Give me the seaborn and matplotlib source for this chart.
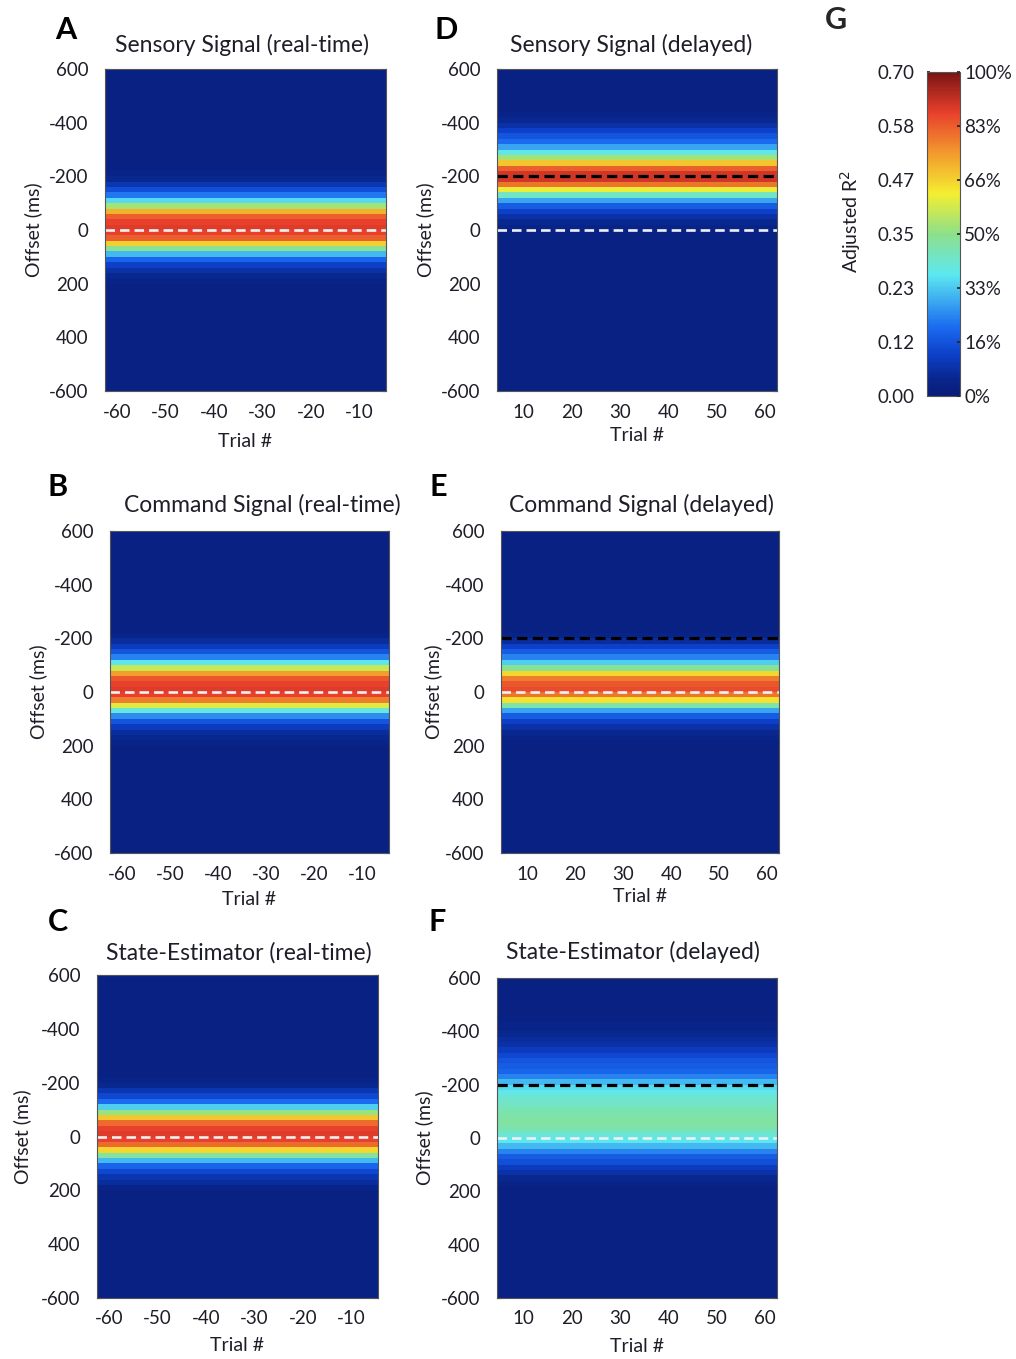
"""Six offset-by-trial R^2 maps plus a shared jet colour scale (panels A-G)."""
import matplotlib
matplotlib.use("Agg")
import matplotlib.pyplot as plt
import numpy as np
import pandas as pd
import seaborn as sns
from matplotlib.colors import LinearSegmentedColormap

W, H = 1016, 1359

# offset bins (ms), 20 ms wide, centres from -590 to 590
OFFSETS = list(range(-590, 600, 20))
LEFT_TRIALS = list(range(-62, -4))     # -62 .. -5
RIGHT_TRIALS = list(range(5, 63))      # 5 .. 62

# adjusted R^2 per offset bin (rows of 10 bins)
SENSORY_RT = [0.02, 0.02, 0.02, 0.02, 0.02, 0.02, 0.02, 0.02, 0.02, 0.02,
              0.02, 0.02, 0.02, 0.02, 0.02, 0.02, 0.02, 0.02, 0.02, 0.03,
              0.04, 0.07, 0.11, 0.16, 0.25, 0.37, 0.50, 0.58, 0.61, 0.62,
              0.61, 0.58, 0.47, 0.34, 0.22, 0.14, 0.09, 0.06, 0.04, 0.03,
              0.02, 0.02, 0.02, 0.02, 0.02, 0.02, 0.02, 0.02, 0.02, 0.02,
              0.02, 0.02, 0.02, 0.02, 0.02, 0.02, 0.02, 0.02, 0.02, 0.02]
COMMAND_RT = [0.02, 0.02, 0.02, 0.02, 0.02, 0.02, 0.02, 0.02, 0.02, 0.02,
              0.02, 0.02, 0.02, 0.02, 0.02, 0.02, 0.02, 0.02, 0.02, 0.03,
              0.05, 0.08, 0.12, 0.17, 0.26, 0.40, 0.52, 0.59, 0.61, 0.62,
              0.61, 0.55, 0.42, 0.28, 0.18, 0.12, 0.08, 0.05, 0.04, 0.03,
              0.02, 0.02, 0.02, 0.02, 0.02, 0.02, 0.02, 0.02, 0.02, 0.02,
              0.02, 0.02, 0.02, 0.02, 0.02, 0.02, 0.02, 0.02, 0.02, 0.02]
STATE_RT = [0.02, 0.02, 0.02, 0.02, 0.02, 0.02, 0.02, 0.02, 0.02, 0.02,
            0.02, 0.02, 0.02, 0.02, 0.02, 0.02, 0.02, 0.02, 0.02, 0.03,
            0.04, 0.07, 0.10, 0.15, 0.24, 0.36, 0.48, 0.57, 0.61, 0.62,
            0.61, 0.57, 0.46, 0.33, 0.22, 0.14, 0.10, 0.07, 0.05, 0.03,
            0.02, 0.02, 0.02, 0.02, 0.02, 0.02, 0.02, 0.02, 0.02, 0.02,
            0.02, 0.02, 0.02, 0.02, 0.02, 0.02, 0.02, 0.02, 0.02, 0.02]
SENSORY_DL = [0.02, 0.02, 0.02, 0.02, 0.02, 0.02, 0.02, 0.02, 0.03, 0.04,
              0.06, 0.09, 0.12, 0.15, 0.20, 0.27, 0.37, 0.48, 0.58, 0.63,
              0.63, 0.56, 0.43, 0.30, 0.20, 0.13, 0.09, 0.06, 0.04, 0.03,
              0.02, 0.02, 0.02, 0.02, 0.02, 0.02, 0.02, 0.02, 0.02, 0.02,
              0.02, 0.02, 0.02, 0.02, 0.02, 0.02, 0.02, 0.02, 0.02, 0.02,
              0.02, 0.02, 0.02, 0.02, 0.02, 0.02, 0.02, 0.02, 0.02, 0.02]
COMMAND_DL = [0.02, 0.02, 0.02, 0.02, 0.02, 0.02, 0.02, 0.02, 0.02, 0.02,
              0.02, 0.02, 0.02, 0.02, 0.02, 0.02, 0.02, 0.02, 0.02, 0.03,
              0.05, 0.09, 0.13, 0.17, 0.24, 0.34, 0.46, 0.55, 0.59, 0.60,
              0.56, 0.45, 0.32, 0.20, 0.13, 0.09, 0.06, 0.04, 0.03, 0.02,
              0.02, 0.02, 0.02, 0.02, 0.02, 0.02, 0.02, 0.02, 0.02, 0.02,
              0.02, 0.02, 0.02, 0.02, 0.02, 0.02, 0.02, 0.02, 0.02, 0.02]
STATE_DL = [0.02, 0.02, 0.02, 0.02, 0.02, 0.02, 0.02, 0.02, 0.03, 0.03,
            0.04, 0.05, 0.06, 0.08, 0.10, 0.12, 0.13, 0.14, 0.17, 0.22,
            0.25, 0.27, 0.29, 0.30, 0.31, 0.32, 0.33, 0.33, 0.31, 0.28,
            0.26, 0.22, 0.17, 0.13, 0.11, 0.08, 0.06, 0.04, 0.03, 0.02,
            0.02, 0.02, 0.02, 0.02, 0.02, 0.02, 0.02, 0.02, 0.02, 0.02,
            0.02, 0.02, 0.02, 0.02, 0.02, 0.02, 0.02, 0.02, 0.02, 0.02]

Y_TICKS = [-600, -400, -200, 0, 200, 400, 600]
Y_TICKLABELS = ["600", "-400", "-200", "0", "200", "400", "-600"]
LEFT_XTICKS = [-60, -50, -40, -30, -20, -10]
RIGHT_XTICKS = [10, 20, 30, 40, 50, 60]
CB_TICKS = [0.0, 0.1167, 0.2333, 0.35, 0.4667, 0.5833, 0.70]
CB_LEFT = ["0.00", "0.12", "0.23", "0.35", "0.47", "0.58", "0.70"]
CB_RIGHT = ["0%", "16%", "33%", "50%", "66%", "83%", "100%"]
VMAX = 0.70

TXT = "#1e1e28"
# jet, toned down to the muted print colours of the figure
JET_MUTED = LinearSegmentedColormap.from_list("jet_muted", [
    (0.00, "#0a1c78"), (0.05, "#08268c"), (0.125, "#0d3fc8"), (0.21, "#1a6af0"),
    (0.375, "#5de8f0"), (0.50, "#8de08a"), (0.625, "#f4ee30"), (0.75, "#f29a2c"),
    (0.875, "#e8402c"), (1.00, "#7a1414")])

# panel: letter, title, profile, trials, ticks, dashed lines, axes box (px), label positions (px)
PANELS = [
    dict(letter="A", title="Sensory Signal (real-time)", prof=SENSORY_RT, trials=LEFT_TRIALS, xt=LEFT_XTICKS,
         lines=[(0, "white")], box=(105, 69, 386, 391), let=(66, 30), tit=(242, 45), yl=33, xl=443),
    dict(letter="B", title="Command Signal (real-time)", prof=COMMAND_RT, trials=LEFT_TRIALS, xt=LEFT_XTICKS,
         lines=[(0, "white")], box=(110, 531, 389, 853), let=(58, 487), tit=(262, 505), yl=38, xl=901),
    dict(letter="C", title="State-Estimator (real-time)", prof=STATE_RT, trials=LEFT_TRIALS, xt=LEFT_XTICKS,
         lines=[(0, "white")], box=(97, 975, 378, 1298), let=(58, 922), tit=(239, 953), yl=22, xl=1347),
    dict(letter="D", title="Sensory Signal (delayed)", prof=SENSORY_DL, trials=RIGHT_TRIALS, xt=RIGHT_XTICKS,
         lines=[(-200, "black"), (0, "white")], box=(497, 69, 777, 391), let=(446, 30), tit=(631, 45), yl=425, xl=437),
    dict(letter="E", title="Command Signal (delayed)", prof=COMMAND_DL, trials=RIGHT_TRIALS, xt=RIGHT_XTICKS,
         lines=[(-200, "black"), (0, "white")], box=(501, 531, 779, 853), let=(438, 487), tit=(641, 505), yl=433, xl=898),
    dict(letter="F", title="State-Estimator (delayed)", prof=STATE_DL, trials=RIGHT_TRIALS, xt=RIGHT_XTICKS,
         lines=[(-200, "black"), (0, "white")], box=(497, 978, 777, 1298), let=(437, 922), tit=(633, 952), yl=424, xl=1348),
]


def fx(x):
    return x / W


def fy(y):
    return 1 - y / H


def main():
    sns.set_theme(style="white")
    plt.rcParams["font.family"] = ["Lato", "DejaVu Sans"]
    fig = plt.figure(figsize=(W / 100, H / 100), dpi=100)
    mesh = None
    for p in PANELS:
        x0, y0, x1, y1 = p["box"]
        ax = fig.add_axes([fx(x0), fy(y1), (x1 - x0) / W, (y1 - y0) / H])
        prof = np.array(p["prof"])
        grid = pd.DataFrame(np.repeat(prof[:, None], len(p["trials"]), axis=1),
                            index=OFFSETS, columns=p["trials"])
        sns.heatmap(grid, ax=ax, cmap=JET_MUTED, vmin=0, vmax=VMAX, cbar=False,
                    xticklabels=False, yticklabels=False)
        mesh = ax.collections[0]
        t0 = p["trials"][0]
        ax.set_xticks([t - t0 + 0.5 for t in p["xt"]])
        ax.set_xticklabels([str(t) for t in p["xt"]], rotation=0)
        ax.set_yticks([(o + 600) / 20 for o in Y_TICKS])
        ax.set_yticklabels(Y_TICKLABELS, rotation=0)
        ax.tick_params(direction="in", length=3, width=0.8, color="#333333",
                       top=True, right=True, bottom=True, left=True,
                       labelsize=13.5, labelcolor=TXT)
        ax.tick_params(axis="x", pad=9)
        ax.tick_params(axis="y", pad=12)
        for s in ax.spines.values():
            s.set_visible(True)
            s.set_linewidth(0.8)
            s.set_color("#555555")
        for off, col in p["lines"]:
            if col == "white":
                ax.axhline((off + 600) / 20, color="#f0f0f0", lw=1.9, ls=(0, (3.6, 1.9)))
            else:
                ax.axhline((off + 600) / 20, color="black", lw=2.3, ls=(0, (3.2, 1.7)))
        ax.set_ylabel("Offset (ms)", fontsize=14, color=TXT)
        ax.yaxis.set_label_coords(fx(p["yl"] + 9), fy((y0 + y1) / 2), transform=fig.transFigure)
        ax.set_xlabel("Trial #", fontsize=14, color=TXT)
        ax.xaxis.set_label_coords(fx((x0 + x1) / 2), fy(p["xl"] - 10), transform=fig.transFigure)
        fig.text(fx(p["let"][0]), fy(p["let"][1]), p["letter"], fontsize=22, fontweight="bold",
                 ha="center", va="center", color="black")
        fig.text(fx(p["tit"][0]), fy(p["tit"][1]), p["title"], fontsize=16.5,
                 ha="center", va="center", color=TXT)

    # G: shared colour scale
    cax = fig.add_axes([fx(927), fy(396), 33 / W, 324 / H])
    cb = fig.colorbar(mesh, cax=cax)
    cb.outline.set_linewidth(0.8)
    cb.outline.set_edgecolor("#555555")
    cax.yaxis.set_ticks_position("left")
    cax.set_yticks(CB_TICKS)
    cax.set_yticklabels(CB_LEFT)
    cax.tick_params(axis="y", direction="in", length=2, labelsize=13.5, labelcolor=TXT, pad=9)
    cax2 = cax.twinx()
    cax2.set_ylim(0, VMAX)
    cax2.set_yticks(CB_TICKS)
    cax2.set_yticklabels(CB_RIGHT)
    cax2.tick_params(axis="y", direction="in", length=2, labelsize=13.5, labelcolor=TXT, pad=3)
    for s in cax2.spines.values():
        s.set_visible(False)
    fig.text(fx(851), fy(222), "Adjusted R$^2$", rotation=90, fontsize=14,
             ha="center", va="center", color=TXT)
    fig.text(fx(836), fy(20), "G", fontsize=22, fontweight="bold", ha="center", va="center")

    fig.savefig("out.png", dpi=100)
    plt.close(fig)


if __name__ == "__main__":
    main()
